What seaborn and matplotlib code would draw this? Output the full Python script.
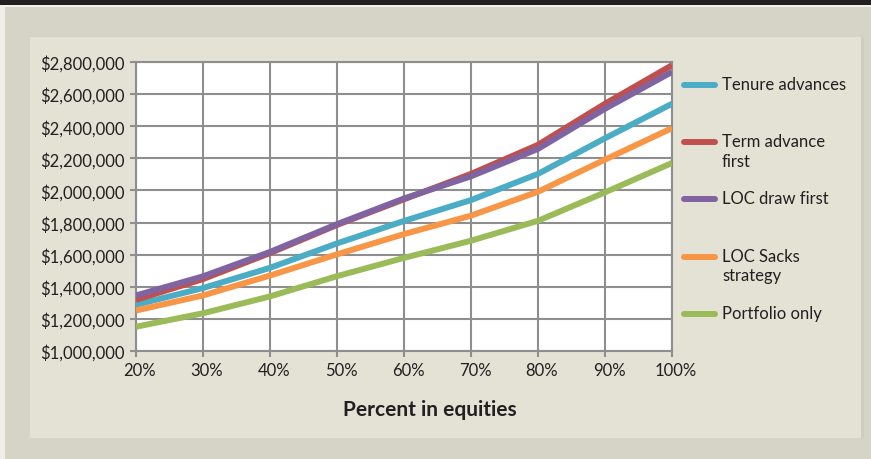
import matplotlib
matplotlib.use("Agg")
import matplotlib.pyplot as plt
from matplotlib.patches import Rectangle
from matplotlib.lines import Line2D
from matplotlib.ticker import FuncFormatter
from matplotlib.transforms import ScaledTranslation
import numpy as np
import pandas as pd
import seaborn as sns

# Percent of the portfolio held in equities
equity_pct = [20, 30, 40, 50, 60, 70, 80, 90, 100]

# Ending wealth by strategy
tenure_advances = [1288000, 1392000, 1518000, 1670000, 1810000, 1940000, 2103000, 2325000, 2540000]
term_advance_first = [1319000, 1448000, 1610000, 1785000, 1945000, 2103000, 2284000, 2540000, 2780000]
loc_draw_first = [1346000, 1465000, 1617000, 1790000, 1950000, 2088000, 2259000, 2509000, 2738000]
loc_sacks = [1252000, 1346000, 1470000, 1602000, 1728000, 1843000, 1992000, 2192000, 2388000]
portfolio_only = [1151000, 1235000, 1340000, 1466000, 1580000, 1687000, 1811000, 1988000, 2171000]

series_names = ["Tenure advances", "Term advance\nfirst", "LOC draw first",
                "LOC Sacks\nstrategy", "Portfolio only"]
series_values = [tenure_advances, term_advance_first, loc_draw_first, loc_sacks, portfolio_only]
series_colors = ["#4BACC6", "#C0504D", "#8064A2", "#F79646", "#9BBB59"]

y_ticks = [1000000, 1200000, 1400000, 1600000, 1800000, 2000000, 2200000, 2400000, 2600000, 2800000]
x_ticks = [20, 30, 40, 50, 60, 70, 80, 90, 100]

df = pd.DataFrame(
    [(x, v, name) for name, vals in zip(series_names, series_values) for x, v in zip(equity_pct, vals)],
    columns=["equity", "value", "strategy"],
)

sns.set_theme(style="white")
plt.rcParams["font.family"] = ["Lato", "DejaVu Sans"]

W, H = 871, 460
fig = plt.figure(figsize=(W / 100, H / 100), dpi=100)
fig.patch.set_facecolor("#D6D3C7")

def px_rect(x0, y0, x1, y1, color):
    fig.patches.append(Rectangle((x0 / W, 1 - y1 / H), (x1 - x0) / W, (y1 - y0) / H,
                                 transform=fig.transFigure, facecolor=color,
                                 edgecolor="none", zorder=-5))

# Framing: dark header strip, outer band, inner panel
px_rect(0, 0, W, 6, "#231F20")
px_rect(0, 6, W, 8, "#F2F0EA")
px_rect(0, 8, 5, H, "#EFEDE6")
px_rect(30, 38, 861, 439, "#E4E1D5")
px_rect(861, 38, 864, 440, "#D0CDC0")

ax = fig.add_axes([136 / W, 1 - 352 / H, (672 - 136) / W, (352 - 63) / H])
ax.set_zorder(5)
ax.set_facecolor("white")

sns.lineplot(data=df, x="equity", y="value", hue="strategy",
             hue_order=series_names, palette=series_colors,
             linewidth=4.3, legend=False, ax=ax, zorder=3)
for ln in ax.lines:
    ln.set_solid_capstyle("butt")
    ln.set_solid_joinstyle("round")

ax.set_xlim(20, 100)
ax.set_ylim(1000000, 2800000)
ax.set_xticks(x_ticks)
ax.set_yticks(y_ticks)
ax.xaxis.set_major_formatter(FuncFormatter(lambda v, p: f"{int(v)}%"))
ax.yaxis.set_major_formatter(FuncFormatter(lambda v, p: f"${int(v):,}"))

grid_c = "#8E8E8E"
ax.grid(True, color=grid_c, linewidth=1.5, zorder=1)
ax.set_axisbelow(True)
for s in ax.spines.values():
    s.set_color(grid_c)
    s.set_linewidth(1.5)
    s.set_visible(True)

ax.tick_params(axis="both", which="both", length=4, width=1.5, color=grid_c,
               labelsize=12, labelcolor="#231F20", direction="out",
               bottom=True, left=True)
ax.tick_params(axis="y", pad=4)
ax.tick_params(axis="x", pad=4)

# nudge the percent labels slightly to the right of their ticks
shift = ScaledTranslation(4 / 100, 0, fig.dpi_scale_trans)
for lab in ax.get_xticklabels():
    lab.set_transform(lab.get_transform() + shift)

ax.set_xlabel("Percent in equities", fontsize=15, fontweight="bold", color="#231F20")
ax.xaxis.set_label_coords((430 - 136) / (672 - 136), -0.165)
ax.set_ylabel("")

# Legend to the right of the plot, handle aligned to the first text line
leg_y0, leg_dy = 86, 57.2
for i, (name, col) in enumerate(zip(series_names, series_colors)):
    yc = leg_y0 + i * leg_dy
    fig.add_artist(Line2D([684 / W, 715 / W], [1 - yc / H, 1 - yc / H],
                          transform=fig.transFigure, color=col, linewidth=4.3,
                          solid_capstyle="round"))
    fig.text(722 / W, 1 - (yc - 9) / H, name, fontsize=12, color="#231F20",
             ha="left", va="top", linespacing=1.3)

fig.savefig("out.png", dpi=100, facecolor=fig.get_facecolor())
